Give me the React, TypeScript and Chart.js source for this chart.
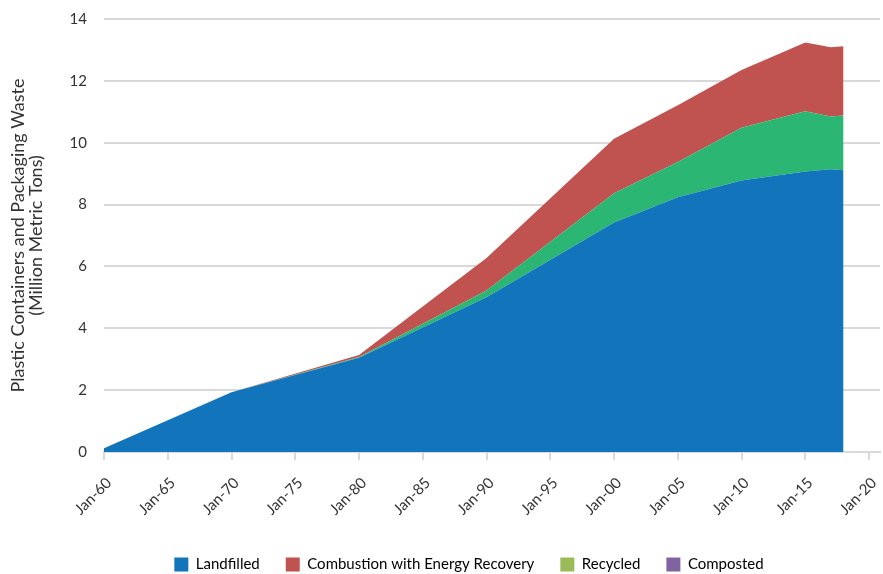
import React, { useEffect, useRef } from "react";
import { Chart, registerables } from "chart.js";

Chart.register(...registerables);

const years = [1960, 1970, 1980, 1990, 2000, 2005, 2010, 2015, 2017, 2018];
const landfilled = [0.12, 1.93, 3.05, 5.0, 7.42, 8.24, 8.78, 9.07, 9.14, 9.11];
const composted = [0, 0, 0, 0, 0, 0, 0, 0, 0, 0];
const recycled = [0, 0, 0.02, 0.22, 0.95, 1.14, 1.7, 1.95, 1.71, 1.77];
const combustion = [0, 0, 0.07, 1.05, 1.76, 1.83, 1.87, 2.22, 2.24, 2.24];
const xTickYears = [1960, 1965, 1970, 1975, 1980, 1985, 1990, 1995, 2000, 2005, 2010, 2015, 2020];
const yTitle = ["Plastic Containers and Packaging Waste", "(Million Metric Tons)"];

const FONT = "Lato";
const TEXT = "#333333";

const legendShift = {
  id: "legendShift",
  afterLayout(chart: any) {
    const lg = chart.legend;
    if (lg) {
      lg.left += 29;
      lg.right += 29;
    }
  },
};

export default function App() {
  const ref = useRef<HTMLCanvasElement | null>(null);

  useEffect(() => {
    document.body.style.margin = "0";
    if (!ref.current) return;
    const toXY = (arr: number[]) => arr.map((v, i) => ({ x: years[i], y: v }));
    const chart = new Chart(ref.current, {
      type: "line",
      data: {
        datasets: [
          { label: "Landfilled", data: toXY(landfilled), backgroundColor: "#1274ba", fill: "origin" },
          { label: "Composted", data: toXY(composted), backgroundColor: "#8064a2", fill: "-1" },
          { label: "Recycled", data: toXY(recycled), backgroundColor: "#2bb673", fill: "-1" },
          { label: "Combustion with Energy Recovery", data: toXY(combustion), backgroundColor: "#c0534f", fill: "-1" },
        ] as any,
      },
      plugins: [legendShift],
      options: {
        animation: false,
        responsive: false,
        maintainAspectRatio: false,
        layout: { padding: { left: 0, right: 3, top: 19, bottom: -8 } },
        elements: {
          line: { borderWidth: 0, tension: 0 },
          point: { radius: 0, hoverRadius: 0 },
        },
        plugins: {
          tooltip: { enabled: false },
          legend: {
            position: "bottom",
            labels: {
              boxWidth: 14,
              boxHeight: 14,
              padding: 26,
              color: TEXT,
              font: { family: FONT, size: 15 },
              generateLabels: () => [
                { text: "Landfilled", fillStyle: "#1274ba", strokeStyle: "#1274ba", lineWidth: 0, datasetIndex: 0, hidden: false },
                { text: "Combustion with Energy Recovery", fillStyle: "#c0534f", strokeStyle: "#c0534f", lineWidth: 0, datasetIndex: 3, hidden: false },
                { text: "Recycled", fillStyle: "#9bbb59", strokeStyle: "#9bbb59", lineWidth: 0, datasetIndex: 2, hidden: false },
                { text: "Composted", fillStyle: "#8064a2", strokeStyle: "#8064a2", lineWidth: 0, datasetIndex: 1, hidden: false },
              ] as any,
            },
          },
        },
        scales: {
          x: {
            type: "linear",
            min: 1960,
            max: 2020.86,
            afterBuildTicks: (axis: any) => {
              axis.ticks = xTickYears.map((v) => ({ value: v }));
            },
            ticks: {
              autoSkip: false,
              includeBounds: false,
              maxRotation: 45,
              minRotation: 45,
              padding: 14,
              labelOffset: 5,
              color: TEXT,
              font: { family: FONT, size: 15 },
              callback: (v: any) => "Jan-" + String(Number(v) % 100).padStart(2, "0"),
            },
            grid: { drawOnChartArea: false, drawTicks: true, tickLength: 8, color: "#d9d9d9", lineWidth: 2 },
            border: { display: true, color: "#d9d9d9", width: 2 },
            afterFit: (scale: any) => {
              scale.height = 79;
              scale.paddingLeft = 0;
              scale.paddingRight = 0;
            },
          },
          y: {
            stacked: true,
            min: 0,
            max: 14,
            ticks: { stepSize: 2, padding: 17, color: TEXT, font: { family: FONT, size: 15 } },
            grid: { color: "#d9d9d9", lineWidth: 2, drawTicks: false },
            border: { display: false },
            title: {
              display: true,
              text: yTitle,
              color: TEXT,
              font: { family: FONT, size: 18, lineHeight: 1.0 },
              padding: { top: 9, bottom: 0 },
            },
            afterFit: (scale: any) => {
              scale.width = 104;
              scale.paddingTop = 0;
              scale.paddingBottom = 0;
            },
          },
        },
      } as any,
    });
    return () => chart.destroy();
  }, []);

  return (
    <div style={{ width: 883, height: 574 }}>
      <canvas ref={ref} width={883} height={574} style={{ width: 883, height: 574, display: "block" }} />
    </div>
  );
}
